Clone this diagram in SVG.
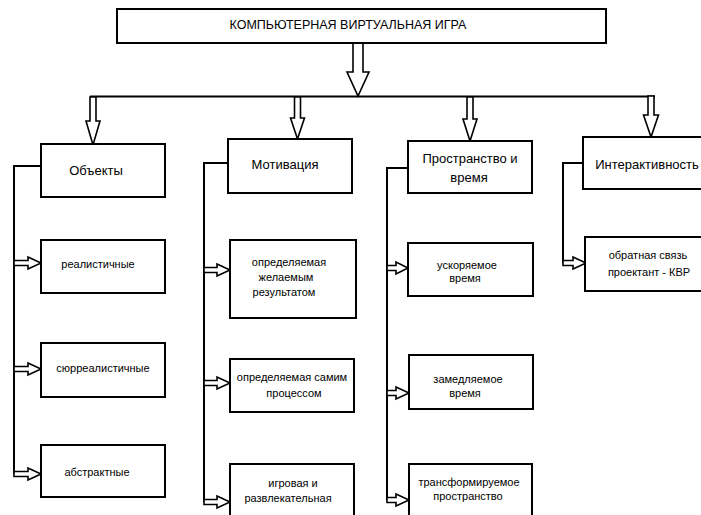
<svg xmlns="http://www.w3.org/2000/svg" width="701" height="515" viewBox="0 0 701 515">
<style>
.box{fill:#fff;stroke:#000;stroke-width:2}
.ln{fill:none;stroke:#000;stroke-width:2}
.arr{fill:#fff;stroke:#000;stroke-width:1.6;stroke-linejoin:miter}
text{font-family:"Liberation Sans",Arial,sans-serif;fill:#000;text-anchor:middle}
.t{font-size:12.5px}
.h{font-size:13px}
.s{font-size:11px}
</style>
<rect width="701" height="515" fill="#fff"/>
<g id="connectors">
<path class="ln" d="M90,96.5H655"/>
<path class="ln" d="M41,166H14V474"/>
<path class="ln" d="M228,163H204V502"/>
<path class="ln" d="M408,168H387V500"/>
<path class="ln" d="M583,163H563V263"/>
<path class="arr" d="M353,43V72H347L358,96L369,72H363V43Z"/>
<path class="arr" d="M90,97V121H86L93,145L100,121H96V97Z"/>
<path class="arr" d="M294.5,97V118H290.5L297.5,139L304.5,118H300.5V97Z"/>
<path class="arr" d="M467,97V119H463L470,141L477,119H473V97Z"/>
<path class="arr" d="M648,96V115H643.5L651,137L658.5,115H654V96Z"/>
<path class="arr" d="M14,260.5H28V257L41,263L28,269V265.5H14Z"/>
<path class="arr" d="M14,366.5H28V363L41,369L28,375V371.5H14Z"/>
<path class="arr" d="M14,471.5H28V468L41,474L28,480V476.5H14Z"/>
<path class="arr" d="M204,267.5H217V264L230,270L217,276V272.5H204Z"/>
<path class="arr" d="M204,380.5H217V377L230,383L217,389V385.5H204Z"/>
<path class="arr" d="M204,499.5H217V496L230,502L217,508V504.5H204Z"/>
<path class="arr" d="M387,265.5H396V262L408,268L396,274V270.5H387Z"/>
<path class="arr" d="M387,390.5H396V387L409,393L396,399V395.5H387Z"/>
<path class="arr" d="M387,497.5H396V494L409,500L396,506V502.5H387Z"/>
<path class="arr" d="M563,260.5H573V257L586,263L573,269V265.5H563Z"/>
</g>
<g id="root"><rect class="box" x="117" y="9" width="489" height="34"/><text class="t" x="348" y="29">КОМПЬЮТЕРНАЯ ВИРТУАЛЬНАЯ ИГРА</text></g>
<g id="objects"><rect class="box" x="41" y="144" width="124" height="53"/><text class="h" x="96" y="175">Объекты</text></g>
<g id="realistic"><rect class="box" x="41" y="240" width="124" height="53"/><text class="s" x="98" y="268">реалистичные</text></g>
<g id="surreal"><rect class="box" x="41" y="343" width="124" height="54"/><text class="s" x="103" y="372">сюрреалистичные</text></g>
<g id="abstract"><rect class="box" x="41" y="445" width="124" height="52"/><text class="s" x="97" y="476">абстрактные</text></g>
<g id="motivation"><rect class="box" x="228" y="139" width="124" height="54"/><text class="h" x="285" y="169">Мотивация</text></g>
<g id="result"><rect class="box" x="230" y="240" width="126" height="78"/><text class="s" x="289" y="266">определяемая</text><text class="s" x="286" y="281">желаемым</text><text class="s" x="284" y="296">результатом</text></g>
<g id="process"><rect class="box" x="230" y="359" width="124" height="53"/><text class="s" x="292" y="381">определяемая самим</text><text class="s" x="294" y="397">процессом</text></g>
<g id="game"><rect class="box" x="230" y="464" width="124" height="60"/><text class="s" x="293" y="487">игровая и</text><text class="s" x="288" y="502">развлекательная</text></g>
<g id="spacetime"><rect class="box" x="408" y="141" width="124" height="52"/><text class="h" x="470" y="163">Пространство и</text><text class="h" x="469" y="182">время</text></g>
<g id="fast"><rect class="box" x="408" y="243" width="125" height="53"/><text class="s" x="467" y="269">ускоряемое</text><text class="s" x="465" y="282">время</text></g>
<g id="slow"><rect class="box" x="409" y="355" width="124" height="54"/><text class="s" x="468" y="383">замедляемое</text><text class="s" x="465" y="397">время</text></g>
<g id="transform"><rect class="box" x="409" y="464" width="123" height="60"/><text class="s" x="469" y="486">трансформируемое</text><text class="s" x="468" y="500">пространство</text></g>
<g id="interactive"><rect class="box" x="583" y="137" width="120" height="52"/><text class="h" x="647" y="169">Интерактивность</text></g>
<g id="feedback"><rect class="box" x="585" y="237" width="118" height="54"/><text class="s" x="648" y="259">обратная связь</text><text class="s" x="649" y="276">проектант - КВР</text></g>
</svg>
